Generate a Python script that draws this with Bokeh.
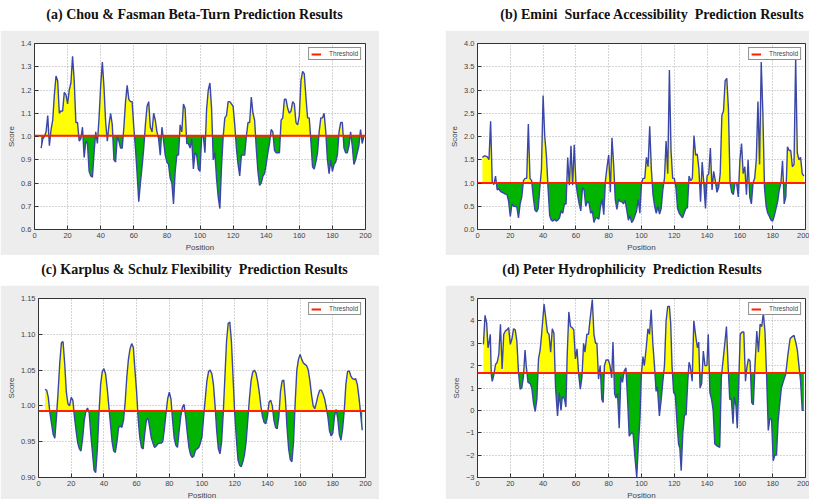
import html
import numpy as np
from bokeh.plotting import figure
from bokeh.layouts import column, row
from bokeh.models import Div, Spacer, Range1d, FixedTicker, NumeralTickFormatter, Legend, LegendItem
from bokeh.embed import file_html
from bokeh.resources import INLINE

# ---------------- data ----------------
TITLES = [
    "(a) Chou & Fasman Beta-Turn Prediction Results",
    "(b) Emini  Surface Accessibility  Prediction Results",
    "(c) Karplus & Schulz Flexibility  Prediction Results",
    "(d) Peter Hydrophilicity  Prediction Results",
]
X_RANGE = (0, 200)
X_TICKS = [0, 20, 40, 60, 80, 100, 120, 140, 160, 180, 200]

# (a) Chou & Fasman, positions 4..199
a_start = 4
a_score = [
    0.95, 0.99, 1.00, 1.02, 1.09, 0.96, 1.03, 1.07, 1.18, 1.26,   # 4-13
    1.24, 1.10, 1.11, 1.11, 1.19, 1.18, 1.14, 1.20, 1.23, 1.345,  # 14-23
    1.24, 1.06, 1.06, 0.98, 0.99, 1.04, 0.91, 0.98, 0.97, 0.85,   # 24-33
    0.83, 0.825, 0.93, 1.02, 0.97, 1.08, 1.22, 1.32, 1.21, 1.06,  # 34-43
    0.98, 1.05, 1.10, 1.05, 0.90, 0.89, 1.00, 0.98, 0.95, 0.95,   # 44-53
    1.04, 1.15, 1.22, 1.16, 1.15, 1.15, 1.04, 0.95, 0.84, 0.72,   # 54-63
    0.80, 0.87, 0.95, 1.05, 1.13, 1.15, 1.04, 1.02, 1.10, 1.07,   # 64-73
    1.02, 0.99, 0.92, 1.04, 0.98, 0.92, 0.89, 0.88, 0.82, 0.80,   # 74-83
    0.71, 0.85, 0.92, 0.92, 1.05, 1.02, 1.14, 1.12, 0.97, 0.97,   # 84-93
    0.95, 0.99, 0.86, 0.93, 0.92, 0.86, 0.85, 1.00, 1.00, 0.93,   # 94-103
    1.12, 1.20, 1.23, 1.12, 0.90, 0.93, 0.82, 0.74, 0.69, 0.87,   # 104-113
    1.00, 1.08, 1.09, 1.15, 1.15, 1.14, 1.13, 1.05, 0.95, 0.88,   # 114-123
    0.83, 0.92, 0.92, 0.92, 1.00, 1.06, 1.06, 1.17, 1.10, 1.07,   # 124-133
    0.95, 0.85, 0.79, 0.80, 0.83, 0.84, 0.88, 0.93, 0.97, 1.03,   # 134-143
    1.02, 0.94, 0.93, 0.93, 0.93, 1.07, 1.08, 1.16, 1.16, 1.12,   # 144-153
    1.10, 1.11, 1.15, 1.14, 1.06, 1.05, 1.09, 1.24, 1.28, 1.27,   # 154-163
    1.17, 1.08, 1.08, 0.98, 0.87, 0.86, 0.89, 0.93, 1.02, 1.08,   # 164-173
    1.08, 1.10, 1.02, 0.90, 0.84, 0.90, 0.85, 0.88, 0.89, 0.92,   # 174-183
    1.02, 1.06, 1.06, 0.95, 0.93, 0.93, 0.96, 1.02, 0.96, 0.88,   # 184-193
    0.90, 0.93, 0.96, 1.03, 0.97, 1.00,                           # 194-199
]
a_threshold = 1.003
a_yrange = (0.6, 1.4)
a_yticks = [0.6, 0.7, 0.8, 0.9, 1.0, 1.1, 1.2, 1.3, 1.4]

# (b) Emini, positions 3..199
b_start = 3
b_score = [
    1.55, 1.58, 1.58, 1.56, 1.50, 2.33, 1.00, 0.97, 1.15, 0.85,   # 3-12
    0.88, 0.82, 0.80, 0.78, 0.76, 0.75, 0.60, 0.28, 0.55, 0.50,   # 13-22
    0.50, 0.48, 0.25, 0.55, 0.70, 1.05, 1.10, 1.10, 2.27, 1.10,   # 23-32
    1.05, 0.70, 0.42, 0.38, 0.45, 0.90, 1.30, 2.88, 2.00, 1.60,   # 33-42
    0.90, 0.30, 0.20, 0.18, 0.22, 0.18, 0.20, 0.25, 0.40, 0.35,   # 43-52
    0.55, 0.55, 1.55, 0.95, 1.80, 0.95, 1.82, 1.00, 0.75, 0.55,   # 53-62
    0.40, 0.90, 0.85, 0.50, 0.60, 0.58, 0.35, 0.40, 0.15, 0.25,   # 63-72
    0.25, 0.22, 0.50, 0.65, 0.32, 1.05, 1.35, 1.60, 0.80, 1.97,   # 73-82
    1.40, 0.65, 0.43, 0.65, 0.60, 0.60, 0.55, 0.63, 0.42, 0.20,   # 83-92
    0.30, 0.15, 0.20, 0.30, 0.40, 0.65, 0.35, 1.00, 1.10, 1.10,   # 93-102
    1.55, 1.35, 2.22, 1.30, 0.75, 0.50, 0.35, 0.50, 0.33, 0.45,   # 103-112
    0.85, 1.10, 1.90, 1.20, 3.43, 1.70, 1.10, 1.10, 0.90, 0.45,   # 113-122
    0.35, 0.30, 0.25, 0.35, 0.45, 0.47, 1.15, 1.05, 1.10, 2.02,   # 123-132
    1.60, 1.62, 1.30, 0.60, 1.45, 1.00, 0.45, 1.15, 1.20, 1.75,   # 133-142
    0.85, 1.25, 1.05, 0.80, 0.90, 1.20, 2.45, 2.55, 3.20, 3.25,   # 143-152
    2.60, 1.00, 0.80, 0.75, 1.00, 1.00, 0.70, 1.50, 1.85, 1.20,   # 153-162
    1.35, 0.75, 1.50, 0.70, 0.55, 1.00, 1.10, 1.50, 2.75, 1.40,   # 163-172
    3.60, 2.50, 0.90, 0.50, 0.35, 0.28, 0.20, 0.18, 0.30, 0.45,   # 173-182
    0.60, 0.85, 1.00, 1.48, 0.55, 0.70, 1.78, 1.70, 1.70, 1.35,   # 183-192
    1.40, 3.70, 1.65, 1.50, 1.55, 1.20, 1.15,                     # 193-199
]
b_threshold = 1.0
b_yrange = (0.0, 4.0)
b_yticks = [0.0, 0.5, 1.0, 1.5, 2.0, 2.5, 3.0, 3.5, 4.0]

# (c) Karplus & Schulz, positions 4..198
c_start = 4
c_score = [
    1.023, 1.022, 1.012, 0.990, 0.975, 0.960, 0.955, 0.985, 1.020, 1.060,  # 4-13
    1.088, 1.090, 1.060, 1.020, 1.003, 1.000, 1.012, 1.008, 0.985, 0.965,  # 14-23
    0.948, 0.940, 0.937, 0.955, 0.980, 0.993, 0.997, 0.990, 0.960, 0.935,  # 24-33
    0.910, 0.907, 0.940, 0.990, 1.030, 1.048, 1.052, 1.045, 1.025, 1.000,  # 34-43
    0.975, 0.950, 0.937, 0.935, 0.950, 0.970, 0.972, 0.970, 0.980, 1.005,  # 44-53
    1.040, 1.065, 1.080, 1.087, 1.082, 1.050, 1.020, 0.980, 0.955, 0.942,  # 54-63
    0.940, 0.962, 0.980, 0.983, 0.970, 0.955, 0.948, 0.942, 0.944, 0.947,  # 64-73
    0.948, 0.948, 0.950, 0.968, 0.990, 1.010, 1.019, 1.010, 0.980, 0.955,  # 74-83
    0.945, 0.942, 0.965, 0.985, 0.998, 1.002, 0.985, 0.962, 0.942, 0.932,  # 84-93
    0.928, 0.930, 0.938, 0.940, 0.942, 0.948, 0.957, 0.985, 1.010, 1.035,  # 94-103
    1.048, 1.050, 1.045, 1.030, 1.000, 0.965, 0.940, 0.933, 0.950, 0.990,  # 104-113
    1.040, 1.090, 1.115, 1.117, 1.090, 1.040, 0.990, 0.955, 0.925, 0.917,  # 114-123
    0.915, 0.922, 0.932, 0.950, 0.980, 1.010, 1.035, 1.047, 1.050, 1.046,  # 124-133
    1.035, 1.020, 1.000, 0.985, 0.977, 0.975, 0.985, 1.005, 1.008, 1.000,  # 134-143
    0.980, 0.970, 0.968, 0.985, 1.020, 1.035, 1.036, 1.010, 0.970, 0.940,  # 144-153
    0.925, 0.922, 0.950, 1.005, 1.050, 1.065, 1.072, 1.065, 1.060, 1.058,  # 154-163
    1.056, 1.050, 1.035, 1.015, 1.000, 0.996, 1.005, 1.015, 1.022, 1.022,  # 164-173
    1.017, 1.010, 0.998, 0.985, 0.965, 0.958, 0.962, 0.985, 0.995, 0.983,  # 174-183
    0.960, 0.952, 0.968, 0.993, 1.030, 1.048, 1.049, 1.042, 1.038, 1.037,  # 184-193
    1.038, 1.030, 1.012, 0.990, 0.966,                                     # 194-198
]
c_threshold = 0.993
c_yrange = (0.90, 1.15)
c_yticks = [0.90, 0.95, 1.00, 1.05, 1.10, 1.15]

# (d) Parker hydrophilicity, read vertices
d_pos = [
    3.6, 4.6, 5.6, 6.4, 7.0, 7.8, 8.4, 9.0, 10.0, 11.0,
    12.0, 13.0, 14.0, 15.0, 16.0, 17.0, 18.0, 19.0, 20.0, 21.0,
    22.0, 23.0, 24.0, 25.0, 26.0, 27.0, 28.0, 29.0, 29.7, 30.8,
    32.2, 33.2, 34.2, 35.2, 36.2, 37.2, 38.2, 39.2, 40.6, 41.8,
    42.6, 43.6, 44.6, 45.6, 46.6, 47.6, 48.8, 49.8, 50.9, 51.7,
    52.9, 53.9, 54.7, 55.7, 56.7, 57.7, 58.7, 59.7, 60.7, 61.7,
    62.7, 63.7, 64.7, 65.5, 66.7, 67.7, 68.7, 70.0, 71.0, 72.0,
    72.8, 73.8, 74.8, 75.8, 76.6, 77.4, 78.4, 79.8, 80.8, 81.8,
    82.6, 83.6, 84.4, 85.4, 86.4, 87.4, 88.4, 89.4, 90.5, 91.5,
    92.5, 93.9, 94.9, 95.9, 97.1, 98.1, 99.1, 99.9, 100.9, 101.7,
    102.9, 103.9, 104.9, 105.9, 106.9, 107.9, 108.9, 109.7, 110.9, 111.9,
    112.9, 114.0, 115.0, 116.0, 117.0, 117.8, 118.6, 119.6, 120.6, 121.6,
    122.6, 123.4, 124.2, 125.2, 126.2, 127.2, 128.2, 129.0, 129.8, 130.9,
    131.9, 133.1, 134.1, 134.9, 135.7, 136.7, 137.7, 138.7, 139.9, 140.7,
    141.7, 142.7, 143.7, 144.7, 146.3, 147.7, 148.7, 149.7, 150.8, 151.8,
    152.8, 153.8, 154.8, 155.8, 156.6, 157.6, 158.4, 159.2, 160.2, 161.4,
    162.4, 163.4, 164.2, 165.2, 166.2, 167.2, 168.2, 169.2, 170.3, 171.3,
    172.3, 173.3, 174.3, 175.3, 176.3, 177.3, 178.3, 179.3, 180.3, 181.3,
    182.3, 183.3, 184.3, 185.3, 186.5, 187.9, 189.3, 190.6, 191.9, 193.0,
    194.2, 195.0, 196.0, 197.0, 198.0, 199.0,
]
d_score = [
    2.95, 4.25, 3.9, 2.8, 3.0, 3.4, 1.6, 1.3, 1.6, 2.05,
    2.15, 2.5, 3.85, 1.85, 3.4, 3.55, 3.6, 3.7, 2.95, 3.2,
    3.65, 3.6, 3.1, 1.7, 0.95, 1.0, 1.5, 2.7, 2.0, 1.25,
    1.2, 0.95, 0.3, -0.05, 0.5, 2.3, 2.7, 3.5, 4.75, 4.0,
    3.5, 3.4, 2.6, 3.65, 3.45, 1.0, -0.25, 0.8, 0.0, 0.6,
    0.55, 0.15, 2.5, 4.4, 3.75, 3.7, 3.6, 2.3, 2.75, 1.6,
    0.95, 1.5, 3.0, 2.6, 3.4, 3.4, 4.1, 4.95, 3.4, 3.0,
    3.0, 1.4, 2.0, 0.5, 0.35, 2.0, 2.25, 2.25, 2.0, 1.45,
    3.05, 0.75, 0.55, 0.75, -0.8, 1.5, 1.25, 1.75, 1.9, 0.5,
    -1.15, -1.0, -1.05, -2.0, -3.0, -1.5, -0.3, 1.6, 2.4, 2.0,
    2.8, 3.65, 3.4, 4.5, 3.0, 2.0, 0.85, 1.05, -0.25, 0.4,
    1.2, 2.0, 4.0, 4.65, 4.65, 3.9, 2.0, 0.8, 0.7, -0.5,
    -1.5, -1.7, -2.7, -1.0, -0.2, -0.2, 1.3, 2.15, 1.95, 1.3,
    4.0, 3.3, 2.8, 3.05, 1.0, 1.2, 2.65, 2.0, 2.0, 3.4,
    0.8, 0.5, 0.0, -1.5, -1.6, -1.65, 1.5, 2.2, 3.0, 3.75,
    2.0, 0.5, 0.5, -0.6, 0.6, 0.2, -0.8, 1.0, 3.4, 3.5,
    3.5, 1.3, 1.9, 2.3, 2.2, 0.35, 0.25, 2.0, 3.55, 2.6,
    3.85, 3.75, 4.35, 3.5, 1.5, -0.9, -0.35, -0.4, -2.25, -2.0,
    -2.0, -0.5, 0.3, 1.0, 1.3, 1.6, 2.5, 3.2, 3.3, 3.35,
    3.0, 2.7, 2.0, 1.3, 0.0, 0.0,
]
d_threshold = 1.67
d_yrange = (-3, 5)
d_yticks = [-3, -2, -1, 0, 1, 2, 3, 4, 5]
d_ylabels = ["\u22123", "\u22122", "\u22121", "0", "1", "2", "3", "4", "5"]

# ---------------- styling ----------------
YELLOW = "#ffff00"
GREEN = "#00b400"
BLUE = "#3a47a8"
RED = "#ff2000"
PANEL_BG = "#ededed"
SANS = "Liberation Sans"


def with_crossings(xs, ys, t):
    X, Y = [], []
    for i in range(len(xs)):
        if i > 0:
            y0, y1 = ys[i - 1], ys[i]
            if (y0 - t) * (y1 - t) < 0:
                xc = xs[i - 1] + (t - y0) * (xs[i] - xs[i - 1]) / (y1 - y0)
                X.append(xc)
                Y.append(t)
        X.append(xs[i])
        Y.append(ys[i])
    return np.array(X, dtype=float), np.array(Y, dtype=float)


def panel(xs, ys, thr, yr, yticks, width, height, left, right, top, bottom, fmt=None, overrides=None):
    p = figure(width=width, height=height, output_backend="svg", toolbar_location=None,
               x_range=Range1d(*X_RANGE), y_range=Range1d(*yr),
               min_border_left=left, min_border_right=right,
               min_border_top=top, min_border_bottom=bottom)
    p.background_fill_color = "white"
    p.border_fill_color = PANEL_BG
    p.outline_line_color = "#333333"
    p.outline_line_width = 1

    X, Y = with_crossings(list(xs), list(ys), thr)
    T = np.full_like(Y, thr)
    p.varea(x=X, y1=T, y2=np.maximum(Y, thr), fill_color=YELLOW)
    p.varea(x=X, y1=np.minimum(Y, thr), y2=T, fill_color=GREEN)
    p.line(list(xs), list(ys), line_color=BLUE, line_width=1.4)
    thr_r = p.line(list(X_RANGE), [thr, thr], line_color=RED, line_width=2)

    leg = Legend(items=[LegendItem(label="Threshold", renderers=[thr_r])], location="top_right")
    leg.border_line_color = "#222222"
    leg.border_line_width = 1
    leg.background_fill_color = "white"
    leg.background_fill_alpha = 1
    leg.label_text_font = SANS
    leg.label_text_font_size = "6.5px"
    leg.label_text_color = "#444444"
    leg.glyph_width = 10
    leg.glyph_height = 6
    leg.label_height = 6
    leg.label_standoff = 8
    leg.padding = 2
    leg.margin = 4
    leg.spacing = 0
    p.add_layout(leg)

    p.xaxis.ticker = FixedTicker(ticks=X_TICKS)
    p.yaxis.ticker = FixedTicker(ticks=yticks)
    if fmt:
        p.yaxis.formatter = NumeralTickFormatter(format=fmt)
    if overrides:
        p.yaxis.major_label_overrides = overrides
    p.xaxis.axis_label = "Position"
    p.yaxis.axis_label = "Score"
    for ax in (p.xaxis, p.yaxis):
        ax.axis_line_color = None
        ax.major_tick_in = 4
        ax.major_tick_out = 0
        ax.major_tick_line_color = "#333333"
        ax.minor_tick_line_color = None
        ax.major_label_text_font = SANS
        ax.major_label_text_font_size = "7.5px"
        ax.major_label_text_color = "#444444"
        ax.major_label_standoff = 3
        ax.axis_label_text_font = SANS
        ax.axis_label_text_font_size = "8px"
        ax.axis_label_text_font_style = "normal"
        ax.axis_label_text_color = "#444444"
        ax.axis_label_standoff = 2
    p.grid.grid_line_color = "#aaaaaa"
    p.grid.grid_line_dash = "1 2"
    p.grid.grid_line_width = 1
    return p


def title_div(text, width, pad_left=0):
    inner = (f'<div style="width:{width}px;height:20px;box-sizing:border-box;'
             f'padding-left:{pad_left}px;text-align:center;'
             f"font-family:'Liberation Serif',serif;font-weight:bold;font-size:14px;"
             f'line-height:20px;white-space:pre;color:#111111">{html.escape(text)}</div>')
    return Div(text=inner, width=width, height=20)


a_pos = list(range(a_start, a_start + len(a_score)))
b_pos = list(range(b_start, b_start + len(b_score)))
c_pos = list(range(c_start, c_start + len(c_score)))

W_L, W_R, GAP = 379, 364, 56
H_TOP, H_BOT = 225, 218

pa = panel(a_pos, a_score, a_threshold, a_yrange, a_yticks, W_L, H_TOP, 34, 14, 13, 26, fmt="0.0")
pb = panel(b_pos, b_score, b_threshold, b_yrange, b_yticks, W_R, H_TOP, 32, 4, 13, 26, fmt="0.0")
pc = panel(c_pos, c_score, c_threshold, c_yrange, c_yticks, W_L, H_BOT, 38, 14, 13, 26, fmt="0.00")
pd_ = panel(d_pos, d_score, d_threshold, d_yrange, d_yticks, W_R, H_BOT, 32, 4, 13, 26,
            overrides={t: l for t, l in zip(d_yticks, d_ylabels)})

layout = column(
    row(column(title_div(TITLES[0], W_L), pa), Spacer(width=GAP, height=20),
        column(title_div(TITLES[1], W_R, pad_left=40), pb)),
    row(column(title_div(TITLES[2], W_L), pc), Spacer(width=GAP, height=20),
        column(title_div(TITLES[3], W_R), pd_)),
)

open("out.html", "w").write(file_html(layout, INLINE))
